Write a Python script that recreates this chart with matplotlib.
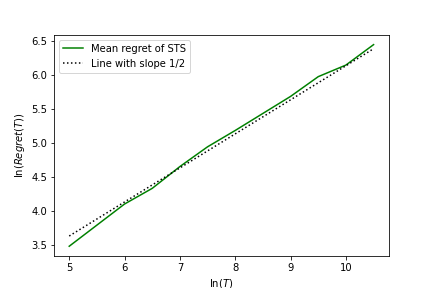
import numpy as np
import matplotlib
matplotlib.use("Agg")
import matplotlib.pyplot as plt

# ln(T) and mean ln(regret)
log_T = [5.0, 5.5, 6.0, 6.5, 7.0, 7.5, 8.0, 8.5, 9.0, 9.5, 10.0, 10.5]
log_regret = [3.48, 3.79, 4.10, 4.33, 4.65, 4.94, 5.18, 5.43, 5.68, 5.97, 6.14, 6.44]

# reference line with slope 1/2
slope = 0.5
intercept = 1.13

x = np.array(log_T)
ref_line = slope * x + intercept

plt.figure(figsize=(6, 4), dpi=72)
plt.plot(x, log_regret, color="green", label="Mean regret of STS")
plt.plot(x, ref_line, color="black", linestyle=":", label="Line with slope 1/2")
plt.xlabel(r"$\ln(T)$")
plt.ylabel(r"$\ln(Regret(T))$")
plt.legend()
plt.savefig("out.png")
